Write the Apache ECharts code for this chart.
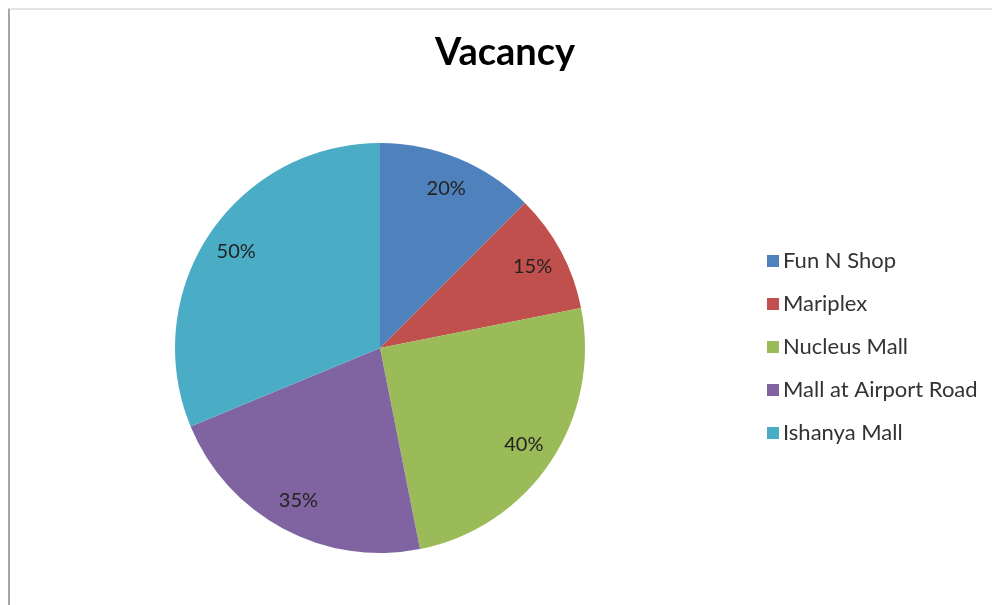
<!DOCTYPE html>
<html>
<head>
<meta charset="utf-8">
<script src="https://cdn.jsdelivr.net/npm/echarts@6/dist/echarts.min.js"></script>
<style>
html, body { margin: 0; padding: 0; background: #fff; }
#main { position: absolute; left: 0; top: 0; width: 992px; height: 605px; }
.frame {
  position: absolute; left: 8px; top: 8px; right: 0; bottom: 0;
  border-left: 2px solid #a6a6a6;
  border-top: 2px solid #e4e4e4;
  pointer-events: none;
}
</style>
</head>
<body>
<div id="main"></div>
<div class="frame"></div>
<script>
var malls = ['Fun N Shop', 'Mariplex', 'Nucleus Mall', 'Mall at Airport Road', 'Ishanya Mall']
var vacancy = [20, 15, 40, 35, 50]
var colors = ['#4f81bd', '#c0504d', '#9bbb59', '#8064a2', '#4bacc6']

var pieData = malls.map(function (name, i) {
  return { name: name, value: vacancy[i] }
})

var myChart = echarts.init(document.getElementById('main'))
myChart.setOption({
  animation: false,
  color: colors,
  title: {
    text: 'Vacancy',
    left: 500,
    top: 29,
    textAlign: 'center',
    textStyle: {
      fontFamily: 'Lato',
      fontSize: 38,
      fontWeight: 'bold',
      color: '#000'
    }
  },
  legend: {
    orient: 'vertical',
    left: 762,
    top: 245,
    itemWidth: 12,
    itemHeight: 12,
    itemGap: 21,
    icon: 'rect',
    data: malls,
    textStyle: {
      fontFamily: 'Lato',
      fontSize: 22,
      color: '#333',
      padding: [0, 0, 0, -1]
    }
  },
  series: [
    {
      type: 'pie',
      center: [380, 348],
      radius: [0, 205],
      startAngle: 90,
      clockwise: true,
      silent: true,
      label: { show: false },
      labelLine: { show: false },
      itemStyle: { borderWidth: 0 },
      data: pieData
    },
    {
      // invisible ring only to place the value labels near the rim
      type: 'pie',
      center: [380, 348],
      radius: [135, 205],
      startAngle: 90,
      clockwise: true,
      silent: true,
      itemStyle: { color: 'rgba(0,0,0,0)', borderWidth: 0 },
      label: {
        show: true,
        position: 'inside',
        formatter: '{c}%',
        fontFamily: 'Lato',
        fontSize: 20,
        color: '#222'
      },
      labelLine: { show: false },
      data: pieData
    }
  ]
})
window.onresize = myChart.resize
</script>
</body>
</html>
